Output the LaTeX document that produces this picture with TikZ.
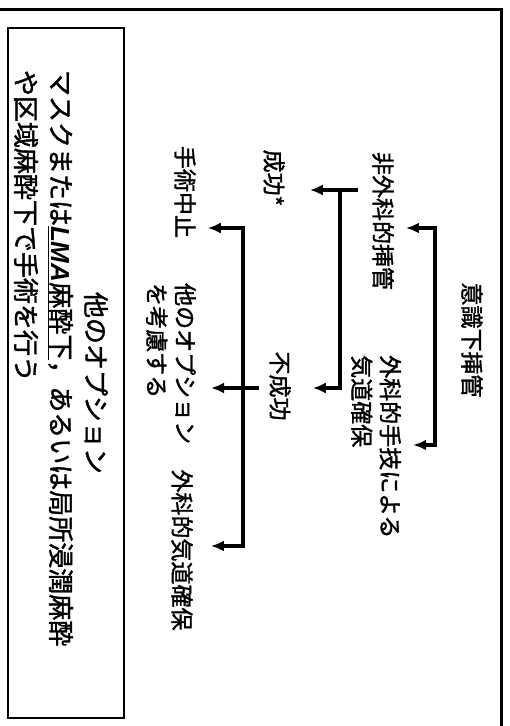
\documentclass[tikz,border=0pt]{standalone}
\usepackage{fontspec}
\newfontfamily\jpfont[FakeBold=1.5]{Noto Sans CJK JP}
\newfontfamily\latinfont{Liberation Sans}
\usetikzlibrary{arrows.meta}

\tikzset{
	lbl/.style={rotate=-90,inner sep=0pt,align=left,
		font=\jpfont\fontsize{23}{28.5}\selectfont},
	boxed/.style={rotate=-90,draw,line width=1.8pt,inner sep=0pt,
		minimum width=690pt,minimum height=116pt},
	boxtext/.style={rotate=-90,inner sep=0pt,text width=606pt,align=left,
		font=\jpfont\fontsize{26}{35}\selectfont},
	conn/.style={line width=3.5pt,-{Latex[length=13pt,width=11pt]}},
	twoway/.style={line width=3.5pt,{Latex[length=13pt,width=11pt]}-{Latex[length=13pt,width=11pt]}},
}

\begin{document}
\begin{tikzpicture}[x=1pt,y=-1pt]
	\useasboundingbox (0,0) rectangle (510,726);
	% outer frame
	\draw[line width=3pt] (0,9) -- (501,9) -- (501,726);

	% labels
	\node[lbl] (awake) at (472,340) {意識下挿管};
	\node[lbl] (nonsurg) at (383,221) {非外科的挿管};
	\node[lbl,anchor=west] (surg) at (376,355) {外科的手技による\\気道確保};
	\node[lbl] (success) at (274,178) {成功*};
	\node[lbl] (failure) at (280,386) {不成功};
	\node[lbl] (stop) at (185,192) {手術中止};
	\node[lbl,anchor=west] (other) at (171,283) {他のオプション\\を考慮する};
	\node[lbl] (surgair) at (182,550) {外科的気道確保};

	% other options box
	\node[boxed] (alt) at (66,373) {};
	\node[boxtext] (alttext) at (61,373) {\makebox[\linewidth][c]{\hspace{20pt}他のオプション}\\
		マスクまたは\underline{{\latinfont\bfseries\itshape LMA}麻酔下}，あるいは局所浸潤麻酔\\
		や区域麻酔下で手術を行う};

	% branch points
	\coordinate (ka1) at (435,228);
	\coordinate (ka2) at (435,445);
	\coordinate (kb1) at (340,190);
	\coordinate (kb2) at (340,388);
	\coordinate (kc1) at (243,228);
	\coordinate (kc2) at (243,546);
	\coordinate (kc3) at (243,388);

	% connectors
	\draw[twoway,shorten <=12pt,shorten >=12pt] (ka1 -| nonsurg.north) -- (ka1) -- (ka2) -- (ka2 -| surg.north);
	\draw[conn,shorten <=14pt,shorten >=25pt] (kb1 -| nonsurg.south) -- (kb1 -| success.north);
	\draw[conn,shorten >=22pt] (kb1) -- (kb2) -- (kb2 -| failure.north);
	\draw[conn,shorten <=10pt,shorten >=15pt] (kc3 -| failure.south) -- (kc3 -| other.north);
	\draw[twoway,shorten <=12pt,shorten >=18pt] (kc1 -| stop.north) -- (kc1) -- (kc2) -- (kc2 -| surgair.north);
\end{tikzpicture}
\end{document}
